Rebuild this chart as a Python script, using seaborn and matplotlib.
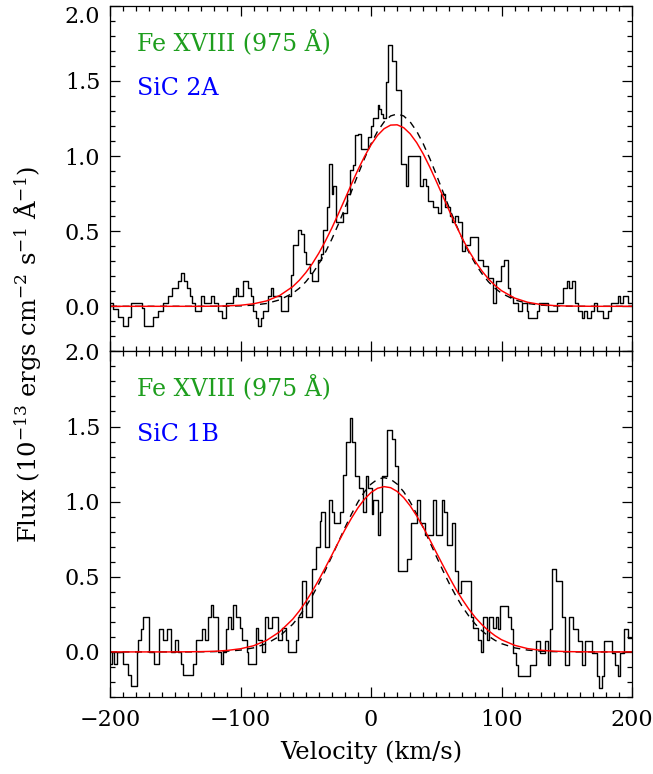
import matplotlib
matplotlib.use("Agg")
import matplotlib.pyplot as plt
import seaborn as sns
from matplotlib.ticker import MultipleLocator

# ---------------- data ----------------
# Top panel (SiC 2A): histogram step edges (km/s) and flux per step
top_edges = [-200, -197.4, -193.6, -189.8, -185.9, -183.9, -175.7, -173.7, -166.8, -163.0,
             -159.1, -155.3, -152.7, -147.6, -145.6, -143.5, -141.3, -138.7, -136.9, -134.9,
             -130.3, -128.2, -122.6, -120.6, -117.0, -114.4, -111.4, -105.5, -103.7,
             -102.2, -97.8, -94.0, -92.2, -90.2, -88.4, -86.3, -84.3, -82.5, -78.7,
             -76.9, -74.8, -69.0, -63.3, -61.3, -59.5, -55.7, -53.6, -51.3, -49.8,
             -46.7, -45.0, -40.9, -38.3, -36.5, -34.0, -32.2, -30.1, -28.9, -27.1,
             -21.2, -18.6, -16.1, -14.0, -12.3, -9.7, -7.7, -2.6,
             0.0, 1.8, 5.1, 6.1, 7.7, 9.5, 11.2, 13.3, 15.8, 19.2,
             22.7, 26.6, 28.6, 37.5, 40.1, 42.1, 43.9, 47.8, 51.6, 53.6,
             56.7, 60.5, 62.3, 64.4, 66.4, 69.5, 72.0, 75.9, 82.2, 86.1,
             89.9, 93.7, 95.5,
             99.6, 102.2, 104.7, 106.5, 109.1, 112.9, 115.5, 119.3, 120.6, 126.9,
             128.7, 135.9, 142.3, 147.4, 149.9, 151.7, 153.8, 156.3, 158.9, 161.4,
             163.5, 165.3, 168.6, 170.9, 172.9, 178.0, 181.9, 183.9, 189.0, 190.8,
             193.4, 197.2, 200]
top_flux = [0.02, -0.02, -0.07, -0.13, -0.07, 0.02, -0.01, -0.13, -0.07, -0.03,
            0.02, 0.07, 0.12, 0.17, 0.22, 0.17, 0.12, 0.07, 0.02, -0.03,
            0.07, 0.02, 0.07, 0.02, -0.03, -0.08, 0.02, 0.07, 0.12,
            0.07, 0.17, 0.12, 0.07, -0.03, -0.08, -0.13, -0.08, -0.03, 0.07,
            0.12, 0.07, -0.03, 0.07, 0.21, 0.41, 0.51, 0.48, 0.36, 0.28,
            0.22, 0.17, 0.31, 0.35, 0.51, 0.66, 0.95, 0.75, 0.80, 0.56,
            0.62, 0.75, 0.91, 0.94, 1.14, 1.15, 1.05, 1.13,
            1.20, 1.25, 1.34, 1.31, 1.28, 1.25, 1.49, 1.74, 1.63, 1.44,
            0.95, 0.80, 1.00, 0.80, 0.85, 0.80, 0.70, 0.66, 0.62, 0.75,
            0.66, 0.60, 0.56, 0.60, 0.56, 0.37, 0.41, 0.46, 0.31, 0.27,
            0.19, 0.02, 0.17,
            0.27, 0.31, 0.12, 0.06, 0.02, -0.03, 0.02, -0.03, -0.08, -0.03,
            0.02, -0.03, 0.02, 0.12, 0.17, 0.12, 0.17, 0.02, -0.03, -0.08,
            -0.03, -0.08, -0.03, 0.02, -0.03, -0.08, -0.03, 0.02, 0.07, 0.02,
            0.07, 0.02]

# Bottom panel (SiC 1B)
bot_edges = [-200, -198.2, -196.7, -194.9, -189.8, -185.9, -183.9, -179.6, -178.3, -176.2,
             -174.5, -170.1, -166.0, -162.5, -159.1, -156.6, -153.3, -150.2, -148.1, -145.6,
             -143.8, -136.1, -134.4, -129.8, -127.2, -124.6, -122.6, -120.8, -117.0, -114.9,
             -113.2, -111.4, -109.3, -107.3, -105.5, -103.7, -100.4, -98.6, -95.3, -94.0,
             -88.4, -86.3, -83.3, -81.2, -78.7, -75.6, -71.5, -68.5, -65.4, -63.3,
             -57.7, -55.7, -53.1, -50.1, -45.0, -42.4, -39.1, -38.3, -35.2, -32.2,
             -30.1, -28.1, -23.8, -21.2, -19.4, -16.1, -14.3, -12.5, -9.2, -5.9,
             -4.1, -2.6, 0.5, 1.8, 5.1, 6.9, 8.2, 12.0, 15.8, 18.4,
             20.9, 27.3, 30.7, 35.0, 37.5, 41.4, 47.8, 49.6, 54.2, 56.2,
             58.0, 62.3, 64.4, 66.4, 69.0, 76.6, 78.4, 82.2, 84.3, 86.1,
             88.6, 90.4, 93.7, 95.5, 97.1, 98.5, 105.2, 107.3, 109.1, 110.9,
             112.9, 121.8, 126.2, 129.5, 133.3, 135.4, 137.2, 139.0, 141.5, 146.1,
             148.7, 151.7, 155.0, 158.4, 161.9, 164.0, 169.6, 172.9, 174.7, 176.8,
             178.8, 184.4, 187.0, 189.0, 190.8, 194.1, 197.2, 200]
bot_flux = [-0.08, 0.0, -0.08, 0.0, -0.08, -0.155, -0.23, 0.0, 0.08, 0.15,
            0.23, 0.0, -0.08, 0.15, 0.08, 0.15, 0.0, 0.08, 0.0, -0.08,
            -0.155, -0.08, 0.08, 0.15, 0.08, 0.23, 0.31, 0.23, 0.0, -0.08,
            0.0, 0.15, 0.23, 0.15, 0.31, 0.23, 0.16, 0.08, 0.0, -0.08,
            0.16, 0.08, 0.0, 0.23, 0.16, 0.23, 0.08, 0.16, 0.08, 0.0,
            0.08, 0.23, 0.47, 0.23, 0.55, 0.70, 0.87, 0.93, 0.70, 1.01,
            0.93, 0.855, 0.93, 1.18, 1.40, 1.56, 1.40, 1.17, 1.09, 0.93,
            1.17, 1.09, 0.92, 1.01, 0.78, 0.93, 1.17, 1.48, 1.42, 1.24,
            0.54, 0.62, 0.855, 1.01, 0.855, 0.78, 1.01, 0.78, 1.01, 0.93,
            0.71, 0.855, 0.54, 0.395, 0.47, 0.23, 0.16, 0.08, 0.0, 0.23,
            0.08, 0.23, 0.16, 0.23, 0.15, 0.305, 0.23, 0.15, -0.01, -0.09,
            -0.16, -0.09, 0.07, -0.01, 0.07, -0.09, 0.15, 0.55, 0.47, 0.23,
            -0.09, 0.23, 0.15, 0.07, -0.09, 0.07, -0.01, -0.16, -0.24, -0.16,
            0.07, -0.01, -0.09, -0.16, -0.01, 0.15, 0.09]

# Fitted model curves (finer sampling across the line core)
model_vel = [-200, -190, -180, -170, -160, -150, -140, -130, -120, -110,
             -100, -90, -80, -70, -60,
             -55, -50, -45, -40, -35, -30, -25, -20, -15, -10,
             -5, 0, 5, 10, 15, 20, 25, 30, 35, 40,
             45, 50, 55, 60, 65, 70, 75, 80, 85, 90, 95,
             100, 110, 120, 130, 140, 150, 160, 170, 180, 190, 200]
top_fit_red = [0, 0, 0, 0, 0, 0, 0, 0, 0.001, 0.003,
               0.007, 0.017, 0.036, 0.072, 0.131,
               0.173, 0.224, 0.284, 0.354, 0.434, 0.522, 0.616, 0.714, 0.813, 0.909,
               0.997, 1.075, 1.138, 1.182, 1.206, 1.208, 1.189, 1.148, 1.089, 1.014,
               0.927, 0.832, 0.734, 0.635, 0.540, 0.451, 0.369, 0.297, 0.235, 0.182, 0.139,
               0.104, 0.055, 0.027, 0.012, 0.005, 0.002, 0.001, 0, 0, 0, 0]
top_fit_dash = [0, 0, 0, 0, 0, 0, 0, 0, 0, 0.001,
                0.003, 0.008, 0.019, 0.043, 0.087,
                0.120, 0.163, 0.217, 0.282, 0.359, 0.448, 0.547, 0.654, 0.765, 0.877,
                0.984, 1.082, 1.165, 1.227, 1.267, 1.280, 1.267, 1.227, 1.165, 1.082,
                0.984, 0.877, 0.765, 0.654, 0.547, 0.448, 0.359, 0.282, 0.217, 0.163, 0.120,
                0.087, 0.043, 0.019, 0.008, 0.003, 0.001, 0, 0, 0, 0, 0]
bot_fit_red = [0, 0, 0, 0, 0, 0, 0.001, 0.002, 0.004, 0.010,
               0.021, 0.041, 0.077, 0.134, 0.218,
               0.272, 0.334, 0.404, 0.480, 0.561, 0.645, 0.730, 0.813, 0.890, 0.959,
               1.017, 1.061, 1.089, 1.100, 1.093, 1.068, 1.027, 0.972, 0.905, 0.829,
               0.747, 0.662, 0.578, 0.496, 0.418, 0.348, 0.284, 0.228, 0.181, 0.141, 0.108,
               0.081, 0.044, 0.022, 0.011, 0.005, 0.002, 0.001, 0, 0, 0, 0]
bot_fit_dash = [0, 0, 0, 0, 0, 0, 0, 0.001, 0.002, 0.005,
                0.012, 0.027, 0.055, 0.105, 0.184,
                0.238, 0.300, 0.373, 0.454, 0.543, 0.636, 0.732, 0.827, 0.917, 0.998,
                1.066, 1.117, 1.149, 1.160, 1.149, 1.117, 1.066, 0.998, 0.917, 0.827,
                0.732, 0.636, 0.543, 0.454, 0.373, 0.300, 0.238, 0.184, 0.140, 0.105, 0.077,
                0.055, 0.027, 0.012, 0.005, 0.002, 0, 0, 0, 0, 0, 0]

line_label = "Fe XVIII (975 Å)"
top_channel = "SiC 2A"
bot_channel = "SiC 1B"
x_ticks = [-200, -100, 0, 100, 200]
y_ticks = [0.0, 0.5, 1.0, 1.5, 2.0]

# ---------------- styling ----------------
sns.set_style("ticks")
plt.rcParams["font.family"] = ["DejaVu Serif"]
plt.rcParams["mathtext.fontset"] = "dejavuserif"
plt.rcParams["text.color"] = "black"
plt.rcParams["xtick.color"] = "black"
plt.rcParams["ytick.color"] = "black"
plt.rcParams["xtick.labelcolor"] = "black"
plt.rcParams["ytick.labelcolor"] = "black"
FS_TICK = 16
FS_TEXT = 17
FS_LABEL = 17.5
GREEN = "#1e9e1e"
BLUE = "#0000ff"

fig = plt.figure(figsize=(6.53, 7.74), dpi=100)
ax_top = fig.add_axes([0.1685, 0.546, 0.7994, 0.4465])
ax_bot = fig.add_axes([0.1685, 0.0995, 0.7994, 0.4465])


def draw(ax, edges, flux, red, dash, channel, show_x):
    y = list(flux) + [flux[-1]]
    sns.lineplot(x=edges, y=y, ax=ax, drawstyle="steps-post", color="black",
                 lw=1.0, estimator=None, sort=False)
    sns.lineplot(x=model_vel, y=dash, ax=ax, color="black", lw=1.0,
                 dashes=False, linestyle=(0, (5, 4)), estimator=None, sort=False)
    sns.lineplot(x=model_vel, y=red, ax=ax, color="red", lw=1.05,
                 estimator=None, sort=False)
    ax.set_xlim(-200, 200)
    ax.set_ylim(-0.3, 2.0)
    ax.set_xticks(x_ticks)
    ax.set_yticks(y_ticks)
    ax.set_yticklabels([f"{t:.1f}" for t in y_ticks])
    ax.xaxis.set_minor_locator(MultipleLocator(10))
    ax.yaxis.set_minor_locator(MultipleLocator(0.1))
    ax.tick_params(which="both", direction="in", top=True, right=True,
                   width=0.9, color="black", labelcolor="black", labelsize=FS_TICK)
    ax.tick_params(which="major", length=7.2)
    ax.tick_params(which="minor", length=3.6)
    ax.tick_params(axis="y", pad=7)
    ax.tick_params(axis="x", pad=9, labelbottom=show_x)
    for s in ax.spines.values():
        s.set_linewidth(0.9)
        s.set_color("black")
    ax.set_xlabel("")
    ax.set_ylabel("")
    ax.text(-179.3, 1.70, line_label, color=GREEN, fontsize=FS_TEXT, va="baseline")
    ax.text(-179.3, 1.405, channel, color=BLUE, fontsize=FS_TEXT, va="baseline")


draw(ax_top, top_edges, top_flux, top_fit_red, top_fit_dash, top_channel, False)
draw(ax_bot, bot_edges, bot_flux, bot_fit_red, bot_fit_dash, bot_channel, True)

# keep the top "2.0" label inside the figure (it hangs below its tick, as in the reference)
for lab in ax_top.get_yticklabels():
    if lab.get_text() == "2.0":
        lab.set_va("top")

fig.text(0.568, 0.028, "Velocity (km/s)", ha="center", va="center",
         fontsize=FS_LABEL, color="black")
fig.text(0.043, 0.542,
         r"Flux (10$^{-13}$ ergs cm$^{-2}$ s$^{-1}$ Å$^{-1}$)",
         ha="center", va="center", rotation=90, fontsize=FS_LABEL, color="black")

fig.savefig("out.png", dpi=100)
